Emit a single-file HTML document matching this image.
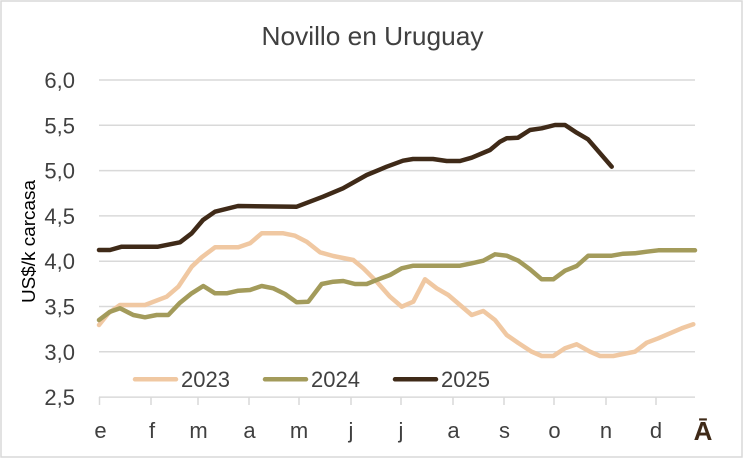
<!DOCTYPE html>
<html>
<head>
<meta charset="utf-8">
<style>
  html, body { margin: 0; padding: 0; background: #ffffff; }
  body { width: 745px; height: 459px; overflow: hidden; }
  svg { display: block; }
  text { font-family: "Liberation Sans", "DejaVu Sans", sans-serif; fill: #404040; }
</style>
</head>
<body>
<svg width="745" height="459" viewBox="0 0 745 459" xmlns="http://www.w3.org/2000/svg">
  <!-- outer frame -->
  <rect x="1" y="1" width="741" height="456" fill="#ffffff" stroke="#D9D9D9" stroke-width="1.5"/>

  <!-- title -->
  <text x="372.5" y="45" font-size="26" text-anchor="middle" textLength="222" lengthAdjust="spacingAndGlyphs">Novillo en Uruguay</text>

  <!-- gridlines -->
  <g stroke="#D9D9D9" stroke-width="1.5">
    <line x1="99" y1="80" x2="695" y2="80"/>
    <line x1="99" y1="125.3" x2="695" y2="125.3"/>
    <line x1="99" y1="170.6" x2="695" y2="170.6"/>
    <line x1="99" y1="215.9" x2="695" y2="215.9"/>
    <line x1="99" y1="261.2" x2="695" y2="261.2"/>
    <line x1="99" y1="306.5" x2="695" y2="306.5"/>
    <line x1="99" y1="351.8" x2="695" y2="351.8"/>
    <line x1="99" y1="397.1" x2="695" y2="397.1"/>
    <!-- ticks -->
    <line x1="99.5" y1="397" x2="99.5" y2="405"/>
    <line x1="151" y1="397" x2="151" y2="405"/>
    <line x1="198" y1="397" x2="198" y2="405"/>
    <line x1="249" y1="397" x2="249" y2="405"/>
    <line x1="299" y1="397" x2="299" y2="405"/>
    <line x1="351" y1="397" x2="351" y2="405"/>
    <line x1="401" y1="397" x2="401" y2="405"/>
    <line x1="453" y1="397" x2="453" y2="405"/>
    <line x1="504" y1="397" x2="504" y2="405"/>
    <line x1="554" y1="397" x2="554" y2="405"/>
    <line x1="606" y1="397" x2="606" y2="405"/>
    <line x1="656" y1="397" x2="656" y2="405"/>
  </g>

  <!-- y tick labels -->
  <g font-size="22" text-anchor="end">
    <text x="75" y="88">6,0</text>
    <text x="75" y="133.3">5,5</text>
    <text x="75" y="178.6">5,0</text>
    <text x="75" y="223.9">4,5</text>
    <text x="75" y="269.2">4,0</text>
    <text x="75" y="314.5">3,5</text>
    <text x="75" y="359.8">3,0</text>
    <text x="75" y="405.1">2,5</text>
  </g>

  <!-- y axis title -->
  <text transform="translate(35,241.5) rotate(-90)" font-size="18" text-anchor="middle" textLength="123" lengthAdjust="spacingAndGlyphs" fill="#000000" style="fill:#000">US$/k carcasa</text>

  <!-- x labels -->
  <g font-size="22" text-anchor="middle">
    <text x="100.5" y="438">e</text>
    <text x="152" y="438">f</text>
    <text x="198.5" y="438">m</text>
    <text x="249.5" y="438">a</text>
    <text x="299" y="438">m</text>
    <text x="351" y="438">j</text>
    <text x="401" y="438">j</text>
    <text x="453.5" y="438">a</text>
    <text x="504.5" y="438">s</text>
    <text x="554.5" y="438">o</text>
    <text x="606" y="438">n</text>
    <text x="656" y="438">d</text>
  </g>
  <text x="703" y="440" font-size="26" font-weight="bold" text-anchor="middle" style="fill:#3F2A18">Ā</text>

  <!-- series -->
  <g fill="none" stroke-width="4.5" stroke-linejoin="round" stroke-linecap="round">
    <polyline stroke="#F0C8A2" points="99,325 108.3,313.3 120,305 145,305 166.7,296.7 178.3,286.7 191.7,266.7 201.7,257.3 215,247.3 238.3,247.3 250,243.3 261.7,233.3 283.3,233.3 295,235.7 306.7,241.7 320,252.3 333.3,256 353.3,260 363.3,268.3 376.7,281.7 390,296.7 401.7,306.7 413.3,301.7 425,279.3 436.7,288.3 448.3,295 460,305 471.7,315 483.3,311 495,320 506.7,335 518.3,343 531.7,351.7 541.7,356 553.3,356 565,348.3 576.7,344.3 590,351.7 600,356 613.3,356 635,351.7 646.7,342.7 658.3,338.3 670,333.3 681.7,328.3 693.3,324.3"/>
    <polyline stroke="#A39B5B" points="99,320 110,311.7 120,308.3 133.3,315 145,317.3 156.7,315 168.3,315 180,302.7 191.7,293.3 203.3,286 215,293.3 226.7,293.3 238.3,290.7 250,290 261.7,286 273.3,288.3 285,294 296.7,302.3 308.3,301.7 321.7,284 333.3,281.7 343.3,281 355,284 366.7,284 378.3,279.3 390,275 401.7,268.3 413.3,265.7 460,265.7 471.7,263.3 483.3,260.7 495,254.3 506.7,255.7 518.3,260.7 530,269.3 541.7,279.3 553.3,279.3 565,270.7 576.7,266 588.3,255.7 611.7,255.7 623.3,253.7 635,253.3 646.7,251.7 658.3,250.3 695,250.3"/>
    <polyline stroke="#3F2A18" points="99,250 110,250 121.7,246.7 158,246.7 180,242.3 191.7,233.3 203,220 215,211.7 238,206 296.7,206.7 323,196.7 343,188.3 366.7,175 386.7,166.7 403,160.7 413,159 433,159 446.7,161 460,161 471.7,157.7 490,150 500,141.7 506.7,138.3 518,137.7 530,130 541.7,128.3 555,125 565,125 576.7,132.7 588,139.3 611.7,166.7"/>
  </g>

  <!-- legend -->
  <g stroke-width="4.5" stroke-linecap="round">
    <line x1="135" y1="379.3" x2="176" y2="379.3" stroke="#F0C8A2"/>
    <line x1="265" y1="379.3" x2="306" y2="379.3" stroke="#A39B5B"/>
    <line x1="395" y1="379.3" x2="436" y2="379.3" stroke="#3F2A18"/>
  </g>
  <g font-size="22">
    <text x="181" y="387">2023</text>
    <text x="311" y="387">2024</text>
    <text x="441" y="387">2025</text>
  </g>
</svg>
</body>
</html>
